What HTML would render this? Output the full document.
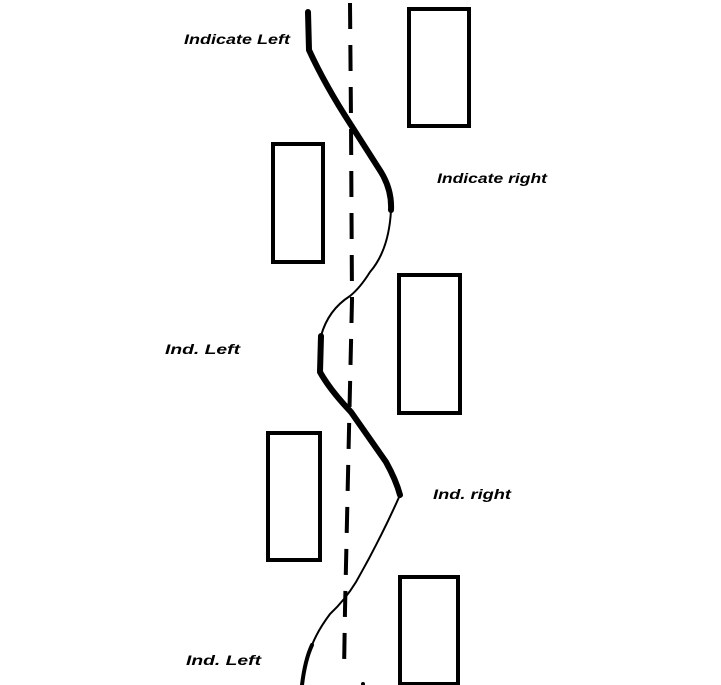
<!DOCTYPE html>
<html><head><style>
html,body{margin:0;padding:0;background:#fff;}
svg{display:block;}
text{font-family:"Liberation Sans",sans-serif;font-weight:bold;font-style:italic;font-size:14px;fill:#000;}
</style></head><body>
<svg width="721" height="685" viewBox="0 0 721 685" xmlns="http://www.w3.org/2000/svg">
<g fill="none" stroke="#000" stroke-width="4">
<rect x="409" y="9" width="60" height="117"/>
<rect x="273" y="144" width="50" height="118"/>
<rect x="399" y="275" width="61" height="138"/>
<rect x="268" y="433" width="52" height="127"/>
<rect x="400" y="577" width="58" height="107"/>
</g>
<path d="M350,3 L351,120 L352,300 L349,430 L345,610 L344,672" fill="none" stroke="#000" stroke-width="4" stroke-dasharray="26,16"/>
<circle cx="363" cy="684" r="2" fill="#000"/>
<g fill="none" stroke="#000" stroke-linecap="round" stroke-linejoin="round">
<path d="M308,12 L309,50 Q325,85 351,125 L381,172 Q392,190 391,210" stroke-width="6"/>
<path d="M391,210 Q389,250 370,272 Q360,288 350,296 Q328,310 321,336" stroke-width="2"/>
<path d="M321,336 L320,372 Q330,390 351,412 L386,462 Q396,480 400,495" stroke-width="6"/>
<path d="M400,495 Q380,540 356,582 Q345,600 330,614 Q318,630 312,645" stroke-width="2"/>
<path d="M312,645 Q305,660 302,685" stroke-width="4"/>
</g>
<text x="184" y="44" textLength="106" lengthAdjust="spacingAndGlyphs">Indicate Left</text>
<text x="437" y="183" textLength="110" lengthAdjust="spacingAndGlyphs">Indicate right</text>
<text x="165" y="354" textLength="75" lengthAdjust="spacingAndGlyphs">Ind. Left</text>
<text x="433" y="499" textLength="78" lengthAdjust="spacingAndGlyphs">Ind. right</text>
<text x="186" y="665" textLength="75" lengthAdjust="spacingAndGlyphs">Ind. Left</text>
</svg>
</body></html>
